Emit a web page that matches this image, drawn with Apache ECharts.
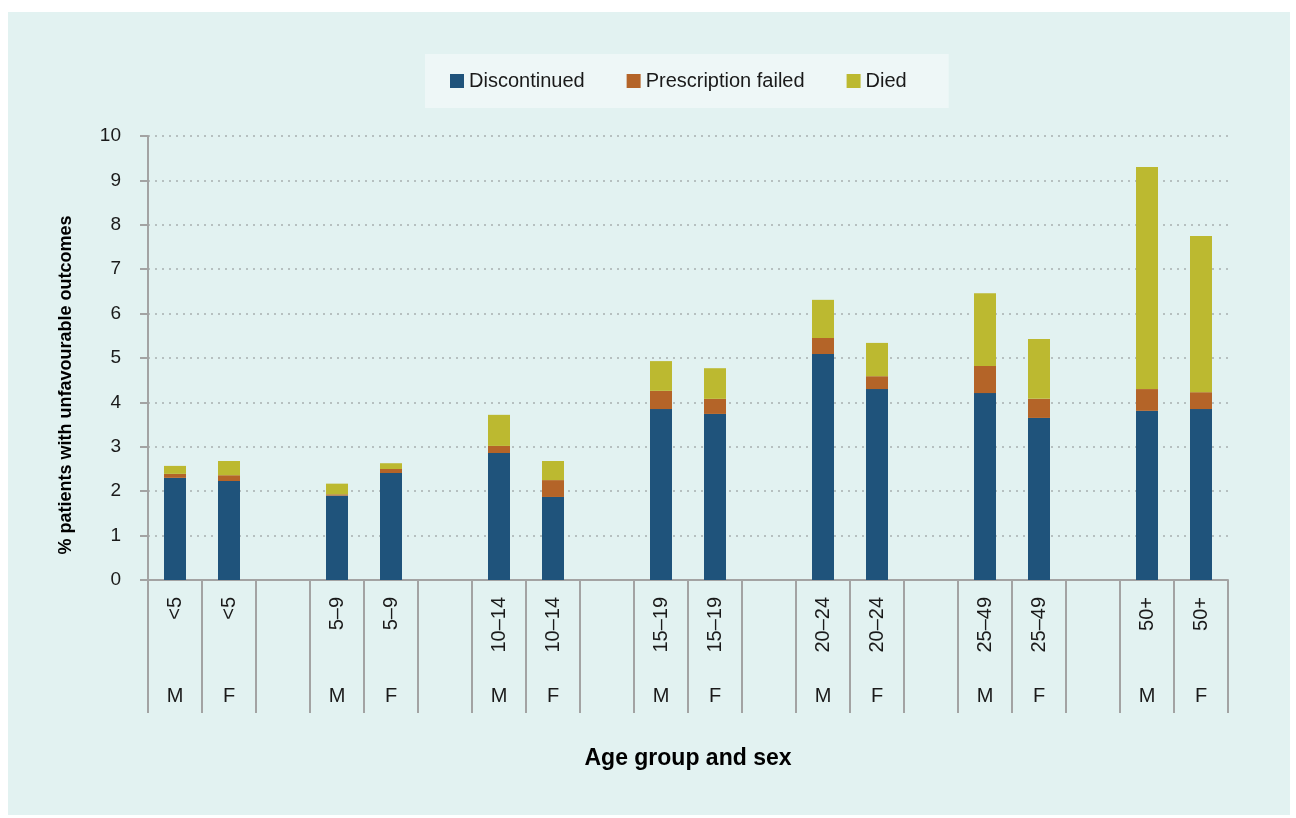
<!DOCTYPE html>
<html>
<head>
<meta charset="utf-8">
<script src="https://cdn.jsdelivr.net/npm/echarts@6/dist/echarts.min.js"></script>
<style>
  html, body { margin: 0; padding: 0; background: #ffffff; }
  #panel { position: absolute; left: 8px; top: 12px; width: 1282px; height: 803px; background: #e2f2f1; }
  #chart { position: absolute; left: 0; top: 0; width: 1296px; height: 818px; }
</style>
</head>
<body>
<div id="panel"></div>
<div id="chart"></div>
<script>
const ageLabels = ['<5','<5','','5–9','5–9','','10–14','10–14','','15–19','15–19','','20–24','20–24','','25–49','25–49','','50+','50+'];
const sexLabels = ['M','F','','M','F','','M','F','','M','F','','M','F','','M','F','','M','F'];
const discontinued = [2.30, 2.23, null, 1.90, 2.41, null, 2.86, 1.87, null, 3.85, 3.74, null, 5.09, 4.30, null, 4.21, 3.65, null, 3.81, 3.85];
const prescriptionFailed = [0.09, 0.13, null, 0.03, 0.09, null, 0.16, 0.38, null, 0.41, 0.34, null, 0.36, 0.29, null, 0.61, 0.43, null, 0.49, 0.38];
const died = [0.18, 0.32, null, 0.24, 0.13, null, 0.70, 0.43, null, 0.67, 0.69, null, 0.86, 0.75, null, 1.64, 1.35, null, 5.00, 3.52];
const yTicks = { min: 0, max: 10, interval: 1 };

const FONT = '"Liberation Sans", Arial, sans-serif';
const TXT = '#1a1a1a';
const AX = '#a3a3a3';

const chart = echarts.init(document.getElementById('chart'));
chart.setOption({
  backgroundColor: 'transparent',
  textStyle: { fontFamily: FONT },
  legend: {
    left: 425, top: 54,
    padding: [17, 42, 17, 25],
    backgroundColor: '#eef7f7',
    itemWidth: 14, itemHeight: 14, itemGap: 42,
    icon: 'rect',
    textStyle: { fontSize: 20, color: TXT, fontFamily: FONT },
    data: ['Discontinued', 'Prescription failed', 'Died']
  },
  grid: { left: 148, right: 68, top: 136, bottom: 238, containLabel: false },
  xAxis: [
    {
      type: 'category',
      data: ageLabels,
      position: 'bottom',
      axisLine: { lineStyle: { color: AX, width: 2 } },
      axisTick: { show: true, interval: 0, length: 133, lineStyle: { color: AX, width: 2 } },
      axisLabel: { interval: 0, rotate: 90, margin: 17, fontSize: 20, color: TXT, fontFamily: FONT },
      name: 'Age group and sex',
      nameLocation: 'middle',
      nameGap: 167,
      nameTextStyle: { fontSize: 23, fontWeight: 'bold', color: '#000', fontFamily: FONT }
    },
    {
      type: 'category',
      data: sexLabels,
      position: 'bottom',
      offset: 106,
      axisLine: { show: false },
      axisTick: { show: false },
      axisLabel: { interval: 0, margin: 0, fontSize: 20, color: TXT, fontFamily: FONT }
    }
  ],
  yAxis: {
    type: 'value',
    min: yTicks.min, max: yTicks.max, interval: yTicks.interval,
    axisLine: { show: true, lineStyle: { color: AX, width: 2 } },
    axisTick: { show: true, length: 8, lineStyle: { color: AX, width: 2 } },
    axisLabel: { margin: 27, fontSize: 19, color: TXT, fontFamily: FONT },
    splitLine: { show: true, lineStyle: { color: '#a8b0b0', type: [2, 5], width: 1.5 } },
    name: '% patients with unfavourable outcomes',
    nameLocation: 'middle',
    nameGap: 73,
    nameTextStyle: { fontSize: 18, fontWeight: 'bold', color: '#000', fontFamily: FONT, padding: [0, 54, 0, 0] }
  },
  series: [
    { name: 'Discontinued', type: 'bar', stack: 'total', barWidth: 22, data: discontinued, itemStyle: { color: '#1f537b' } },
    { name: 'Prescription failed', type: 'bar', stack: 'total', barWidth: 22, data: prescriptionFailed, itemStyle: { color: '#b46428' } },
    { name: 'Died', type: 'bar', stack: 'total', barWidth: 22, data: died, itemStyle: { color: '#bcb930' } }
  ]
});
</script>
</body>
</html>
